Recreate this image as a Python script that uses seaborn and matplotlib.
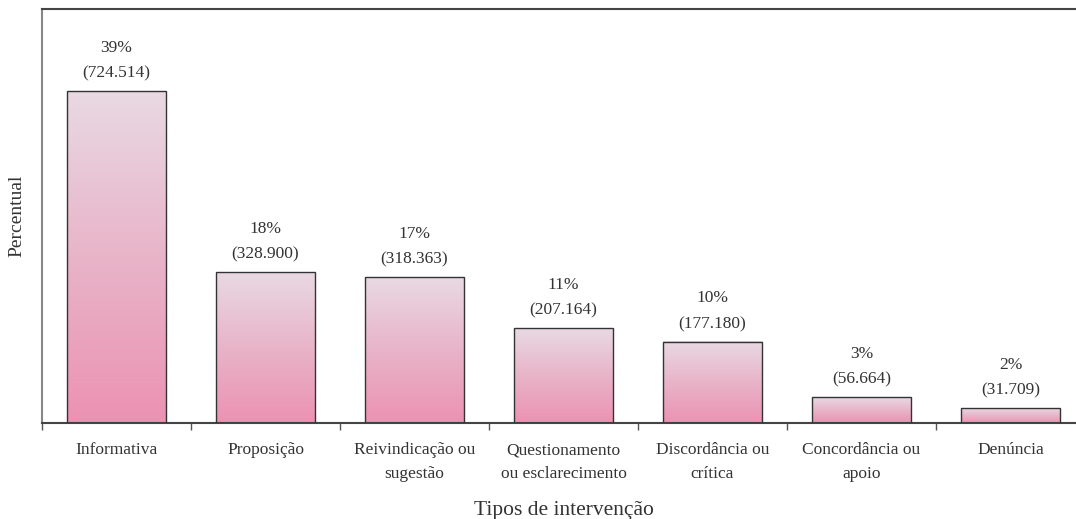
import numpy as np
import pandas as pd
import matplotlib
matplotlib.use("Agg")
import matplotlib.pyplot as plt
import seaborn as sns
from matplotlib.colors import LinearSegmentedColormap

categorias = ["Informativa", "Proposição", "Reivindicação ou\nsugestão",
              "Questionamento\nou esclarecimento", "Discordância ou\ncrítica",
              "Concordância ou\napoio", "Denúncia"]
quantidades = [724.514, 328.900, 318.363, 207.164, 177.180, 56.664, 31.709]
percentuais = [39, 18, 17, 11, 10, 3, 2]
rotulos_qtd = ["724.514", "328.900", "318.363", "207.164", "177.180", "56.664", "31.709"]

sns.set_theme(style="white")
plt.rcParams['font.family'] = ['Liberation Serif', 'DejaVu Serif']

df = pd.DataFrame({"cat": categorias, "val": quantidades})

W, H = 1076, 519
fig = plt.figure(figsize=(W / 100, H / 100), dpi=100)
ax = fig.add_axes([42 / W, (H - 423) / H, 1043 / W, 414 / H])

sns.barplot(data=df, x="cat", y="val", width=0.67, color="#EC93B3",
            edgecolor="#333333", linewidth=1.0, ax=ax, zorder=3)

cmap = LinearSegmentedColormap.from_list("g", ["#EC92B2", "#E8B4C8", "#E9D9E3"])
grad = np.linspace(0, 1, 256).reshape(-1, 1)
for p in ax.patches:
    x, w, h = p.get_x(), p.get_width(), p.get_height()
    p.set_facecolor("none")
    ax.imshow(grad, extent=[x, x + w, 0, h], origin="lower", aspect="auto",
              cmap=cmap, zorder=2)

for i, (pc, q, v) in enumerate(zip(percentuais, rotulos_qtd, quantidades)):
    ax.annotate(f"{pc}%\n({q})", xy=(i, v), xytext=(0, 7), textcoords="offset points",
                ha="center", va="bottom", fontsize=12.5, linespacing=1.8, color="#333333")

ax.set_xlim(-0.5, 6.5)
ax.set_ylim(0, 903.5)
ax.set_yticks([])
ax.set_xticks(range(len(categorias)))
ax.set_xticklabels(categorias, fontsize=12.5, color="#333333", linespacing=1.6)
ax.set_xticks(np.arange(-0.5, 7, 1), minor=True)
ax.tick_params(axis="x", which="major", length=0, pad=14)
ax.tick_params(axis="x", which="minor", length=5, width=1, color="#555555", direction="out", bottom=True)
ax.set_xlabel("Tipos de intervenção", fontsize=15.5, color="#333333", labelpad=14)
ax.set_ylabel("Percentual", fontsize=14, color="#333333", labelpad=12)

for s in ["top", "bottom"]:
    ax.spines[s].set_color("#444444")
    ax.spines[s].set_linewidth(1.5)
ax.spines["left"].set_color("#888888")
ax.spines["left"].set_linewidth(1.5)
ax.spines["right"].set_visible(False)

fig.savefig("out.png", dpi=100)
